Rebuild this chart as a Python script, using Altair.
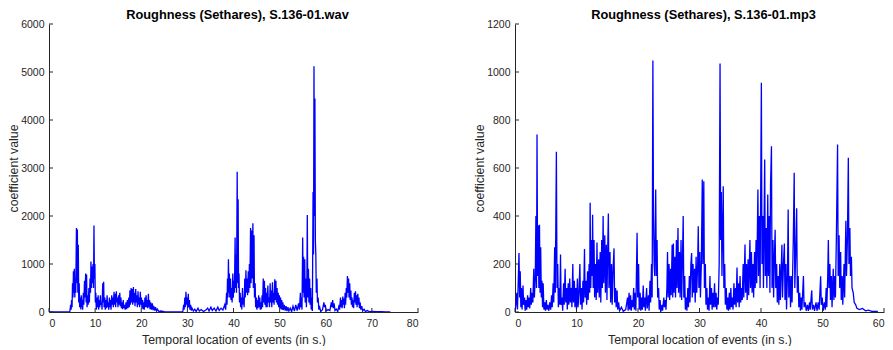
import altair as alt
import pandas as pd

# ---------------- data ----------------
wav_t = [0, 4.5, 4.7, 4.8, 4.9, 5.0, 5.1, 5.2, 5.3, 5.4, 5.5, 5.6, 5.7, 5.8, 5.95, 6.05, 6.15, 6.25, 6.35, 6.45,
         6.55, 6.65, 6.8, 6.9, 7.0, 7.1, 7.2, 7.3, 7.45, 7.55, 7.7, 7.8, 7.95, 8.05, 8.15, 8.25, 8.4, 8.5, 8.65, 8.75,
         8.9, 9.0, 9.1, 9.2, 9.3, 9.4, 9.55, 9.65, 9.75, 9.85, 9.95, 10.05, 10.15, 10.25, 10.4, 10.5, 10.65, 10.75, 10.9, 11.0,
         11.15, 11.25, 11.4, 11.5, 11.65, 11.75, 11.85, 11.95, 12.1, 12.2, 12.35, 12.45, 12.6, 12.7, 12.85, 12.95, 13.1, 13.2, 13.35, 13.45,
         13.6, 13.7, 13.85, 13.95, 14.1, 14.2, 14.35, 14.45, 14.6, 14.7, 14.85, 14.95, 15.1, 15.2, 15.35, 15.45, 15.6, 15.7, 15.85, 15.95,
         16.1, 16.2, 16.4, 16.5, 16.7, 16.8, 17.0, 17.1, 17.3, 17.4, 17.55, 17.65, 17.8, 17.9, 18.05, 18.15, 18.3, 18.4, 18.55, 18.65,
         18.8, 18.9, 19.05, 19.15, 19.3, 19.4, 19.55, 19.65, 19.8, 19.9, 20.05, 20.15, 20.3, 20.4, 20.55, 20.65, 20.8, 20.9, 21.05, 21.15,
         21.3, 21.4, 21.55, 21.65, 21.8, 21.9, 22.05, 22.2, 22.4, 22.55, 22.7, 22.9, 23.1, 23.3, 23.5, 23.8, 24.2, 25, 27, 29,
         29.2, 29.3, 29.45, 29.55, 29.7, 29.8, 29.95, 30.05, 30.2, 30.3, 30.45, 30.55, 30.7, 30.85, 31.0, 31.3, 31.6, 31.9, 32.3, 32.6,
         33.0, 33.5, 34.0, 34.4, 34.7, 35.1, 35.4, 35.8, 36.2, 36.6, 36.9, 37.3, 37.7, 38.1, 38.3, 38.5, 38.6, 38.7, 38.8, 38.9,
         39.0, 39.1, 39.2, 39.35, 39.45, 39.6, 39.7, 39.85, 39.95, 40.1, 40.2, 40.35, 40.45, 40.55, 40.65, 40.8, 40.9, 41.0, 41.1, 41.2,
         41.3, 41.45, 41.55, 41.7, 41.8, 41.95, 42.05, 42.2, 42.3, 42.45, 42.55, 42.7, 42.8, 42.95, 43.05, 43.2, 43.3, 43.45, 43.55, 43.7,
         43.8, 43.95, 44.05, 44.2, 44.3, 44.45, 44.55, 44.7, 44.8, 44.95, 45.05, 45.2, 45.3, 45.45, 45.55, 45.7, 45.8, 45.95, 46.05, 46.2,
         46.3, 46.45, 46.55, 46.7, 46.8, 46.95, 47.05, 47.2, 47.3, 47.45, 47.55, 47.7, 47.8, 47.95, 48.05, 48.2, 48.3, 48.45, 48.55, 48.7,
         48.8, 48.95, 49.05, 49.2, 49.3, 49.45, 49.55, 49.7, 49.8, 49.95, 50.05, 50.2, 50.3, 50.45, 50.55, 50.7, 50.8, 51.0, 51.2, 51.4,
         51.6, 51.8, 52.0, 52.3, 52.6, 52.9, 53.2, 53.5, 53.8, 54.1, 54.3, 54.5, 54.6, 54.75, 54.85, 55.0, 55.1, 55.2, 55.3, 55.45,
         55.55, 55.7, 55.8, 55.9, 56.0, 56.1, 56.25, 56.35, 56.5, 56.6, 56.75, 56.85, 57.0, 57.1, 57.25, 57.35, 57.45, 57.55, 57.65, 57.75,
         57.85, 57.95, 58.1, 58.2, 58.35, 58.5, 58.7, 58.9, 59.3, 59.6, 59.75, 59.9, 60.1, 60.5, 60.9, 61.2, 61.35, 61.5, 61.65, 61.8,
         62.0, 62.3, 62.6, 62.9, 63.0, 63.2, 63.3, 63.45, 63.55, 63.7, 63.8, 63.95, 64.05, 64.2, 64.3, 64.45, 64.55, 64.7, 64.8, 64.95,
         65.05, 65.2, 65.3, 65.45, 65.55, 65.7, 65.8, 65.95, 66.05, 66.2, 66.3, 66.45, 66.55, 66.7, 66.8, 66.95, 67.05, 67.2, 67.3, 67.45,
         67.6, 67.8, 68.0, 68.3, 68.6, 69.0, 69.5, 70.0, 71, 72, 73, 74]
wav_v = [0, 0, 150, 50, 250, 100, 600, 300, 850, 400, 900, 300, 700, 400, 1750, 600, 1720, 400, 1400, 200,
         600, 100, 300, 50, 350, 100, 250, 50, 400, 150, 650, 300, 800, 200, 780, 100, 350, 150, 500, 200,
         700, 400, 1050, 500, 950, 600, 1000, 500, 1800, 700, 1000, 200, 400, 50, 300, 100, 350, 50, 250, 100,
         350, 150, 200, 50, 600, 200, 630, 100, 300, 50, 250, 80, 350, 100, 200, 50, 300, 100, 250, 50,
         350, 150, 300, 100, 420, 150, 380, 100, 430, 200, 300, 100, 350, 150, 400, 120, 300, 80, 200, 60,
         250, 80, 150, 50, 200, 60, 250, 80, 300, 100, 450, 150, 500, 200, 480, 150, 520, 200, 400, 120,
         480, 200, 350, 100, 430, 150, 300, 100, 420, 150, 300, 80, 250, 60, 200, 50, 300, 100, 350, 100,
         250, 80, 380, 100, 250, 60, 200, 50, 180, 40, 130, 30, 100, 20, 60, 10, 20, 5, 3, 5,
         150, 50, 300, 100, 420, 150, 300, 80, 380, 100, 250, 50, 150, 30, 80, 20, 60, 10, 80, 20,
         50, 10, 40, 80, 20, 100, 30, 80, 20, 100, 30, 80, 40, 150, 50, 400, 150, 700, 300, 1100,
         400, 800, 300, 700, 250, 500, 200, 800, 300, 650, 400, 1550, 500, 1200, 400, 2920, 600, 2350, 500, 800,
         200, 400, 100, 300, 50, 500, 150, 300, 100, 700, 300, 870, 400, 700, 350, 850, 400, 1000, 500, 1750,
         600, 1700, 700, 1850, 500, 1600, 300, 600, 100, 300, 50, 250, 80, 350, 100, 300, 50, 200, 60, 350,
         100, 700, 200, 650, 150, 500, 100, 400, 100, 550, 200, 300, 100, 600, 200, 450, 100, 620, 200, 400,
         150, 680, 250, 650, 200, 500, 150, 400, 100, 350, 80, 300, 60, 250, 50, 200, 40, 150, 30, 120,
         20, 100, 20, 80, 10, 120, 20, 150, 30, 180, 50, 400, 100, 300, 50, 1550, 400, 1150, 300, 1100,
         200, 700, 100, 500, 2020, 300, 900, 200, 700, 150, 500, 50, 300, 20, 2500, 1200, 5120, 2000, 4450, 1500,
         1200, 400, 700, 200, 300, 50, 100, 10, 50, 200, 100, 150, 20, 50, 30, 200, 100, 250, 80, 180,
         30, 60, 10, 150, 50, 300, 100, 250, 80, 320, 150, 280, 80, 400, 150, 500, 300, 750, 400, 700,
         300, 600, 250, 450, 150, 300, 100, 250, 80, 400, 200, 430, 150, 350, 100, 380, 150, 300, 80, 200,
         50, 120, 20, 60, 10, 30, 5, 10, 5, 8, 3, 2]

mp3_t = [0, 0.15, 0.3, 0.4, 0.55, 0.65, 0.75, 0.85, 0.95, 1.05, 1.15, 1.3, 1.4, 1.55, 1.65, 1.8, 1.9, 2.05, 2.15, 2.3,
         2.4, 2.55, 2.65, 2.8, 2.9, 3.05, 3.15, 3.3, 3.4, 3.5, 3.58, 3.68, 3.78, 3.88, 3.98, 4.08, 4.18, 4.28, 4.38, 4.48,
         4.58, 4.7, 4.85, 4.95, 5.1, 5.2, 5.35, 5.5, 5.65, 5.8, 5.95, 6.05, 6.2, 6.3, 6.45, 6.55, 6.73, 6.83, 6.95, 7.05,
         7.2, 7.3, 7.4, 7.5, 7.65, 7.75, 7.9, 8.0, 8.15, 8.25, 8.4, 8.5, 8.65, 8.75, 8.9, 9.0, 9.15, 9.25, 9.4, 9.5,
         9.65, 9.75, 9.9, 10.0, 10.15, 10.25, 10.4, 10.55, 10.65, 10.8, 10.9, 11.05, 11.15, 11.3, 11.4, 11.55, 11.65, 11.8, 11.9, 12.05,
         12.15, 12.22, 12.32, 12.45, 12.55, 12.62, 12.72, 12.85, 12.95, 13.1, 13.2, 13.33, 13.43, 13.6, 13.7, 13.85, 13.95, 14.1, 14.2, 14.33,
         14.43, 14.6, 14.7, 14.85, 14.95, 15.1, 15.18, 15.28, 15.45, 15.55, 15.7, 15.8, 15.95, 16.1, 16.2, 16.35, 16.45, 16.6, 16.7, 16.85,
         17.0, 17.3, 17.6, 18.0, 18.3, 18.4, 18.55, 18.65, 18.8, 18.9, 19.05, 19.15, 19.3, 19.4, 19.55, 19.65, 19.85, 19.95, 20.1, 20.2,
         20.35, 20.45, 20.6, 20.7, 20.85, 20.95, 21.1, 21.2, 21.4, 21.5, 21.7, 21.8, 21.95, 22.05, 22.2, 22.3, 22.42, 22.52, 22.62, 22.72,
         22.88, 22.98, 23.1, 23.2, 23.35, 23.45, 23.6, 23.7, 23.9, 24.0, 24.2, 24.3, 24.45, 24.55, 24.7, 24.8, 24.9, 25.05, 25.15, 25.3,
         25.4, 25.55, 25.65, 25.75, 25.85, 26.0, 26.1, 26.25, 26.35, 26.5, 26.6, 26.75, 26.85, 27.0, 27.1, 27.25, 27.35, 27.45, 27.6, 27.7,
         27.85, 27.95, 28.1, 28.2, 28.35, 28.45, 28.6, 28.72, 28.82, 28.95, 29.05, 29.2, 29.3, 29.45, 29.55, 29.7, 29.8, 29.9, 30.05, 30.15,
         30.3, 30.45, 30.55, 30.7, 30.8, 30.95, 31.05, 31.2, 31.3, 31.45, 31.55, 31.7, 31.8, 31.95, 32.05, 32.2, 32.3, 32.45, 32.55, 32.7,
         32.8, 32.95, 33.05, 33.2, 33.34, 33.44, 33.55, 33.65, 33.86, 33.96, 34.1, 34.2, 34.35, 34.45, 34.6, 34.7, 34.85, 34.95, 35.1, 35.2,
         35.35, 35.45, 35.6, 35.7, 35.85, 35.95, 36.1, 36.2, 36.35, 36.45, 36.6, 36.7, 36.85, 36.95, 37.1, 37.2, 37.4, 37.5, 37.65, 37.75,
         37.9, 38.0, 38.2, 38.3, 38.45, 38.55, 38.7, 38.8, 38.95, 39.05, 39.2, 39.3, 39.5, 39.6, 39.75, 39.85, 40.06, 40.16, 40.3, 40.4,
         40.6, 40.7, 40.85, 40.95, 41.1, 41.2, 41.35, 41.45, 41.55, 41.7, 41.8, 41.95, 42.05, 42.2, 42.3, 42.4, 42.55, 42.65, 42.8, 42.9,
         43.05, 43.15, 43.4, 43.5, 43.65, 43.8, 43.9, 44.05, 44.15, 44.3, 44.42, 44.52, 44.7, 44.8, 44.95, 45.05, 45.25, 45.4, 45.5, 45.65,
         45.8, 45.9, 46.05, 46.15, 46.3, 46.4, 46.55, 46.65, 46.9, 47.0, 47.2, 47.35, 47.55, 47.7, 47.9, 48.0, 48.25, 48.35, 48.55, 48.7,
         48.95, 49.1, 49.3, 49.45, 49.7, 49.8, 49.95, 50.1, 50.3, 50.45, 50.6, 50.7, 50.85, 50.95, 51.05, 51.2, 51.3, 51.45, 51.55, 51.75,
         51.85, 52.0, 52.1, 52.25, 52.45, 52.55, 52.7, 52.8, 52.95, 53.05, 53.2, 53.3, 53.5, 53.6, 53.8, 53.9, 54.05, 54.2, 54.3, 54.45,
         54.55, 54.7, 54.8, 55.0, 55.15, 55.4, 55.6, 56, 56.5, 57, 57.5, 58, 59]
mp3_v = [0, 30, 80, 10, 150, 246, 60, 170, 20, 100, 10, 110, 30, 60, 5, 50, 10, 70, 20, 60,
         15, 100, 30, 80, 40, 180, 60, 150, 400, 100, 740, 150, 360, 100, 364, 80, 270, 60, 130, 20,
         120, 10, 40, 5, 50, 10, 30, 5, 40, 10, 70, 20, 120, 40, 270, 80, 668, 100, 200, 20,
         100, 30, 240, 30, 60, 5, 120, 30, 180, 40, 100, 10, 120, 30, 140, 40, 100, 20, 200, 40,
         130, 20, 100, 10, 140, 20, 80, 200, 30, 100, 10, 130, 40, 262, 60, 130, 30, 170, 50, 200,
         80, 455, 100, 300, 150, 405, 100, 300, 60, 200, 50, 290, 80, 220, 60, 250, 40, 300, 100, 400,
         120, 320, 80, 280, 50, 300, 410, 100, 250, 40, 200, 30, 180, 265, 40, 100, 20, 90, 10, 40,
         5, 20, 3, 10, 60, 5, 80, 10, 70, 5, 50, 20, 100, 10, 80, 5, 330, 60, 200, 10,
         80, 5, 60, 10, 110, 20, 60, 5, 100, 15, 70, 5, 130, 40, 200, 60, 1048, 400, 200, 150,
         510, 150, 300, 60, 100, 10, 50, 0, 30, 5, 60, 20, 50, 10, 100, 250, 60, 200, 50, 180,
         70, 280, 60, 285, 80, 230, 60, 300, 100, 350, 80, 250, 60, 300, 50, 250, 400, 60, 150, 10,
         60, 5, 100, 20, 150, 40, 200, 246, 60, 200, 80, 180, 40, 230, 80, 200, 357, 100, 250, 60,
         200, 552, 200, 545, 100, 200, 30, 100, 10, 60, 5, 150, 30, 100, 10, 80, 20, 120, 20, 80,
         10, 60, 30, 200, 1035, 300, 500, 150, 524, 100, 200, 30, 100, 10, 60, 5, 80, 10, 100, 20,
         60, 10, 120, 30, 100, 20, 185, 40, 120, 20, 150, 40, 100, 50, 200, 60, 281, 80, 200, 50,
         220, 70, 300, 100, 250, 80, 200, 60, 250, 100, 300, 120, 510, 150, 400, 100, 955, 200, 400, 100,
         635, 150, 350, 100, 490, 150, 400, 80, 530, 691, 100, 300, 60, 250, 343, 100, 200, 40, 150, 30,
         200, 50, 280, 60, 200, 285, 50, 200, 10, 150, 427, 60, 150, 20, 150, 40, 300, 580, 100, 250,
         432, 80, 150, 20, 80, 5, 60, 10, 150, 20, 40, 5, 30, 5, 40, 10, 90, 10, 30, 5,
         40, 5, 40, 10, 149, 30, 60, 5, 40, 10, 100, 20, 150, 300, 100, 200, 50, 150, 20, 180,
         50, 150, 60, 300, 698, 150, 320, 100, 250, 50, 150, 30, 200, 60, 380, 150, 300, 643, 200, 350,
         150, 230, 100, 80, 40, 30, 15, 10, 15, 5, 8, 3, 2]

wav_xticks = [0, 10, 20, 30, 40, 50, 60, 70, 80]
wav_yticks = [0, 1000, 2000, 3000, 4000, 5000, 6000]
mp3_xticks = [0, 10, 20, 30, 40, 50, 60]
mp3_yticks = [0, 200, 400, 600, 800, 1000, 1200]

W, H = 369, 288
AX = "#262626"
FONT = "Liberation Sans"


def panel(t, v, xmax, ymax, xticks, yticks, title):
    df = pd.DataFrame({"t": t, "v": v})
    xs = alt.Scale(domain=[0, xmax], nice=False, zero=False)
    ys = alt.Scale(domain=[0, ymax], nice=False, zero=False)
    xax = alt.Axis(values=xticks, title="Temporal location of events (in s.)",
                   tickSize=0, labelPadding=6, titlePadding=5, format="d")
    yax = alt.Axis(values=yticks, title="coefficient value",
                   tickSize=0, labelPadding=5, titlePadding=0, format="d")
    line = alt.Chart(df).mark_line(color="#0000FF", strokeWidth=1.3, clip=True).encode(
        x=alt.X("t:Q", scale=xs, axis=xax),
        y=alt.Y("v:Q", scale=ys, axis=yax),
        order=alt.Order("t:Q"),
    )
    xt = alt.Chart(pd.DataFrame({"t": xticks})).mark_rule(color=AX, strokeWidth=1).encode(
        x=alt.X("t:Q", scale=xs, axis=xax),
        y=alt.value(H), y2=alt.value(H - 4),
    )
    yt = alt.Chart(pd.DataFrame({"v": yticks})).mark_rule(color=AX, strokeWidth=1).encode(
        y=alt.Y("v:Q", scale=ys, axis=yax),
        x=alt.value(0), x2=alt.value(4),
    )
    return alt.layer(line, xt, yt).properties(
        width=W, height=H,
        title=alt.TitleParams(title, frame="group", anchor="middle", fontSize=12.8, dx=4,
                              font=FONT, fontWeight="bold", color="#000000", offset=-3),
    )


left = panel(wav_t, wav_v, 80, 6000, wav_xticks, wav_yticks, "Roughness (Sethares), S.136-01.wav")
right = panel(mp3_t, mp3_v, 60, 1200, mp3_xticks, mp3_yticks, "Roughness (Sethares), S.136-01.mp3")

chart = alt.hconcat(left, right, spacing=54).properties(
    padding={"left": 7, "top": 9, "right": 0, "bottom": 0},
    background="white",
).configure_view(stroke=None).configure_axis(
    grid=False,
    domainColor=AX,
    domainWidth=1,
    labelFont=FONT,
    labelFontSize=10.5,
    labelColor=AX,
    titleFont=FONT,
    titleFontSize=12.3,
    titleFontWeight="normal",
    titleColor=AX,
)

chart.save("out.html", embed_options={"renderer": "svg", "actions": False})
